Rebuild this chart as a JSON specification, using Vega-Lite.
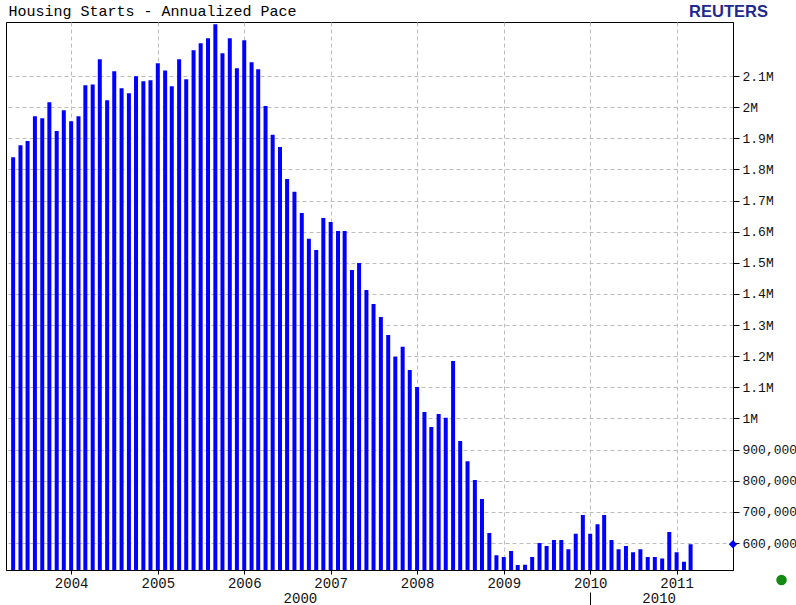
{
  "$schema": "https://vega.github.io/schema/vega-lite/v6.json",
  "autosize": "none",
  "width": 727,
  "height": 548,
  "padding": {"left": 6, "top": 22, "right": 63, "bottom": 35},
  "background": "white",
  "datasets": {
    "starts": [
      {"date": "2003-05-01", "starts": 1839000},
      {"date": "2003-06-01", "starts": 1878000},
      {"date": "2003-07-01", "starts": 1891000},
      {"date": "2003-08-01", "starts": 1971000},
      {"date": "2003-09-01", "starts": 1964000},
      {"date": "2003-10-01", "starts": 2016000},
      {"date": "2003-11-01", "starts": 1923000},
      {"date": "2003-12-01", "starts": 1990000},
      {"date": "2004-01-01", "starts": 1955000},
      {"date": "2004-02-01", "starts": 1971000},
      {"date": "2004-03-01", "starts": 2070000},
      {"date": "2004-04-01", "starts": 2073000},
      {"date": "2004-05-01", "starts": 2154000},
      {"date": "2004-06-01", "starts": 2022000},
      {"date": "2004-07-01", "starts": 2115000},
      {"date": "2004-08-01", "starts": 2061000},
      {"date": "2004-09-01", "starts": 2045000},
      {"date": "2004-10-01", "starts": 2099000},
      {"date": "2004-11-01", "starts": 2083000},
      {"date": "2004-12-01", "starts": 2086000},
      {"date": "2005-01-01", "starts": 2141000},
      {"date": "2005-02-01", "starts": 2118000},
      {"date": "2005-03-01", "starts": 2067000},
      {"date": "2005-04-01", "starts": 2154000},
      {"date": "2005-05-01", "starts": 2090000},
      {"date": "2005-06-01", "starts": 2183000},
      {"date": "2005-07-01", "starts": 2205000},
      {"date": "2005-08-01", "starts": 2221000},
      {"date": "2005-09-01", "starts": 2266000},
      {"date": "2005-10-01", "starts": 2173000},
      {"date": "2005-11-01", "starts": 2221000},
      {"date": "2005-12-01", "starts": 2125000},
      {"date": "2006-01-01", "starts": 2215000},
      {"date": "2006-02-01", "starts": 2144000},
      {"date": "2006-03-01", "starts": 2122000},
      {"date": "2006-04-01", "starts": 2004000},
      {"date": "2006-05-01", "starts": 1911000},
      {"date": "2006-06-01", "starts": 1872000},
      {"date": "2006-07-01", "starts": 1769000},
      {"date": "2006-08-01", "starts": 1728000},
      {"date": "2006-09-01", "starts": 1660000},
      {"date": "2006-10-01", "starts": 1577000},
      {"date": "2006-11-01", "starts": 1541000},
      {"date": "2006-12-01", "starts": 1644000},
      {"date": "2007-01-01", "starts": 1631000},
      {"date": "2007-02-01", "starts": 1602000},
      {"date": "2007-03-01", "starts": 1602000},
      {"date": "2007-04-01", "starts": 1477000},
      {"date": "2007-05-01", "starts": 1499000},
      {"date": "2007-06-01", "starts": 1413000},
      {"date": "2007-07-01", "starts": 1368000},
      {"date": "2007-08-01", "starts": 1326000},
      {"date": "2007-09-01", "starts": 1268000},
      {"date": "2007-10-01", "starts": 1198000},
      {"date": "2007-11-01", "starts": 1230000},
      {"date": "2007-12-01", "starts": 1156000},
      {"date": "2008-01-01", "starts": 1101000},
      {"date": "2008-02-01", "starts": 1021000},
      {"date": "2008-03-01", "starts": 973000},
      {"date": "2008-04-01", "starts": 1014000},
      {"date": "2008-05-01", "starts": 1002000},
      {"date": "2008-06-01", "starts": 1185000},
      {"date": "2008-07-01", "starts": 928000},
      {"date": "2008-08-01", "starts": 863000},
      {"date": "2008-09-01", "starts": 802000},
      {"date": "2008-10-01", "starts": 741000},
      {"date": "2008-11-01", "starts": 632000},
      {"date": "2008-12-01", "starts": 561000},
      {"date": "2009-01-01", "starts": 555000},
      {"date": "2009-02-01", "starts": 574000},
      {"date": "2009-03-01", "starts": 529000},
      {"date": "2009-04-01", "starts": 530000},
      {"date": "2009-05-01", "starts": 555000},
      {"date": "2009-06-01", "starts": 600000},
      {"date": "2009-07-01", "starts": 590000},
      {"date": "2009-08-01", "starts": 610000},
      {"date": "2009-09-01", "starts": 610000},
      {"date": "2009-10-01", "starts": 580000},
      {"date": "2009-11-01", "starts": 630000},
      {"date": "2009-12-01", "starts": 690000},
      {"date": "2010-01-01", "starts": 630000},
      {"date": "2010-02-01", "starts": 660000},
      {"date": "2010-03-01", "starts": 690000},
      {"date": "2010-04-01", "starts": 610000},
      {"date": "2010-05-01", "starts": 580000},
      {"date": "2010-06-01", "starts": 590000},
      {"date": "2010-07-01", "starts": 570000},
      {"date": "2010-08-01", "starts": 580000},
      {"date": "2010-09-01", "starts": 555000},
      {"date": "2010-10-01", "starts": 555000},
      {"date": "2010-11-01", "starts": 550000},
      {"date": "2010-12-01", "starts": 635000},
      {"date": "2011-01-01", "starts": 570000},
      {"date": "2011-02-01", "starts": 540000},
      {"date": "2011-03-01", "starts": 596000}
    ],
    "decades": [
      {"date": "2006-08-24", "decade": "2000"},
      {"date": "2010-10-17", "decade": "2010"}
    ],
    "separators": [
      {"date": "2010-01-01"}
    ]
  },
  "layer": [
    {
      "data": {"name": "starts"},
      "mark": {"type": "bar", "size": 4, "color": "#0000ff", "clip": true},
      "encoding": {
        "x": {
          "field": "date",
          "type": "temporal",
          "scale": {"domain": [{"year": 2003, "month": 4, "date": 22}, {"year": 2011, "month": 8, "date": 6}]},
          "axis": {
            "orient": "bottom",
            "tickCount": {"interval": "year", "step": 1},
            "format": "%Y",
            "grid": true,
            "gridColor": "#bdbdbd",
            "gridDash": [4, 3],
            "gridWidth": 1,
            "domainColor": "#000000",
            "domainWidth": 1,
            "tickColor": "#000000",
            "tickSize": 4,
            "labelFont": "Liberation Mono",
            "labelFontSize": 14,
            "labelColor": "#111111",
            "labelPadding": 2,
            "labelFlush": false,
            "labelOverlap": false,
            "title": "Housing Starts - Annualized Pace",
            "titleX": 2,
            "titleY": -555,
            "titleAlign": "left",
            "titleAnchor": "start",
            "titleBaseline": "alphabetic",
            "titleFont": "Liberation Mono",
            "titleFontSize": 15,
            "titleFontWeight": "normal",
            "titleColor": "#000000"
          }
        },
        "y": {
          "field": "starts",
          "type": "quantitative",
          "scale": {"domain": [513300, 2273500], "nice": false, "zero": false},
          "axis": {
            "orient": "right",
            "values": [600000, 700000, 800000, 900000, 1000000, 1100000, 1200000, 1300000, 1400000, 1500000, 1600000, 1700000, 1800000, 1900000, 2000000, 2100000],
            "labelExpr": "datum.value >= 1000000 ? format(datum.value / 1000000, '.1~f') + 'M' : format(datum.value, ',')",
            "grid": true,
            "gridColor": "#bdbdbd",
            "gridDash": [4, 3],
            "gridWidth": 1,
            "domainColor": "#000000",
            "domainWidth": 1,
            "tickColor": "#000000",
            "tickSize": 6,
            "labelFont": "Liberation Mono",
            "labelFontSize": 13,
            "labelColor": "#111111",
            "labelPadding": 3,
            "labelAlign": "left",
            "labelFlush": false,
            "labelOverlap": false,
            "title": "REUTERS",
            "titleAngle": 0,
            "titleX": -5,
            "titleY": -11,
            "titleAlign": "center",
            "titleBaseline": "middle",
            "titleFont": "Liberation Sans",
            "titleFontSize": 16.5,
            "titleFontWeight": "bold",
            "titleColor": "#1f2a8c"
          }
        }
      }
    },
    {
      "data": {"name": "starts"},
      "transform": [{"filter": "year(datum.date) == 2011 && month(datum.date) == 2"}],
      "mark": {"type": "point", "shape": "diamond", "filled": true, "size": 70, "color": "#0000ff", "opacity": 1},
      "encoding": {
        "x": {"datum": {"year": 2011, "month": 8, "date": 27}, "type": "temporal", "axis": null},
        "y": {"field": "starts", "type": "quantitative", "axis": null}
      }
    },
    {
      "data": {"name": "separators"},
      "mark": {"type": "point", "filled": true, "size": 110, "color": "#138a13", "opacity": 1},
      "encoding": {
        "x": {"datum": {"year": 2012, "month": 3, "date": 19}, "type": "temporal", "axis": null},
        "y": {"datum": 481000, "type": "quantitative", "axis": null}
      }
    },
    {
      "data": {"name": "decades"},
      "mark": {"type": "point", "opacity": 0},
      "encoding": {
        "x": {
          "field": "date",
          "type": "temporal",
          "axis": {
            "title": null,
            "orient": "bottom",
            "offset": 19,
            "values": [{"year": 2006, "month": 8, "date": 24}, {"year": 2010, "month": 10, "date": 17}],
            "labelExpr": "year(datum.value) < 2010 ? '2000' : '2010'",
            "grid": false,
            "domain": false,
            "ticks": false,
            "labelFont": "Liberation Mono",
            "labelFontSize": 14,
            "labelColor": "#111111",
            "labelPadding": 2,
            "labelFlush": false,
            "labelOverlap": false
          }
        }
      }
    },
    {
      "data": {"name": "separators"},
      "mark": {"type": "point", "opacity": 0},
      "encoding": {
        "x": {
          "field": "date",
          "type": "temporal",
          "axis": {
            "title": null,
            "orient": "bottom",
            "offset": 22,
            "values": [{"year": 2010, "month": 1, "date": 1}],
            "labels": false,
            "grid": false,
            "domain": false,
            "ticks": true,
            "tickSize": 13,
            "tickColor": "#000000"
          }
        }
      }
    }
  ],
  "resolve": {"axis": {"x": "independent", "y": "independent"}},
  "config": {
    "view": {"stroke": "#000000", "strokeWidth": 1},
    "axis": {"gridOpacity": 1, "labelOverlap": false}
  }
}
